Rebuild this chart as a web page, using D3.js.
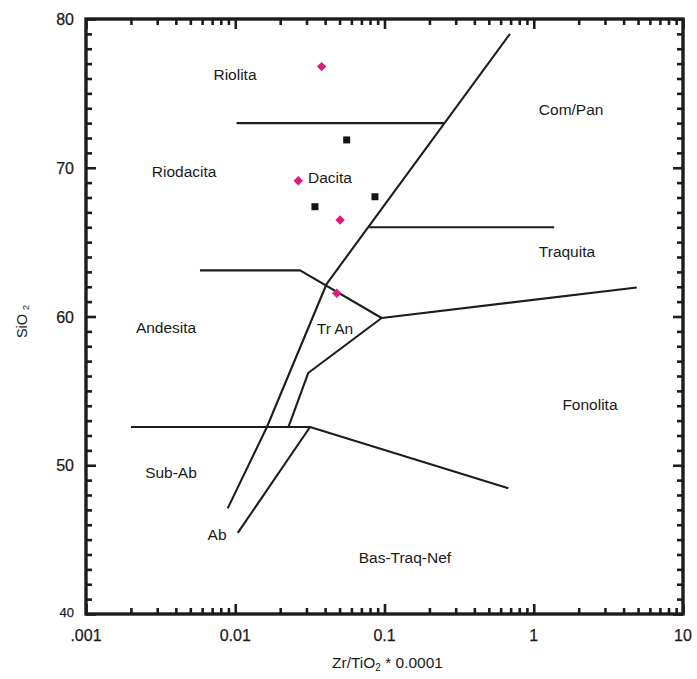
<!DOCTYPE html>
<html>
<head>
<meta charset="utf-8">
<script src="https://cdn.jsdelivr.net/npm/d3@7"></script>
<style>
  html, body { margin: 0; padding: 0; background: #fff; }
  svg { display: block; }
  text { font-family: "Liberation Sans", Arial, Helvetica, sans-serif; fill: #1a1a1a; }
</style>
</head>
<body>
<svg id="chart" width="697" height="679"></svg>
<script>
// Zr/TiO2 vs SiO2 classification diagram (Winchester & Floyd type)

// Axis ticks
const xTickValues = [0.001, 0.01, 0.1, 1, 10];
const xTickLabels = [".001", "0.01", "0.1", "1", "10"];
const yTickValues = [40, 50, 60, 70, 80];
const yTickLabels = ["40", "50", "60", "70", "80"];

// Field boundaries, [Zr/TiO2 * 0.0001, SiO2]
const riolitaBoundary   = [[0.0102, 73.0], [0.25, 73.0]];
const mainDivide        = [[0.693, 79.0], [0.041, 62.2], [0.0163, 52.57], [0.0089, 47.1]];
const traquitaBoundary  = [[0.079, 66.0], [1.37, 66.0]];
const andesitaBoundary  = [[0.0058, 63.1], [0.0272, 63.1], [0.0957, 59.9]];
const fonolitaBoundary  = [[0.0957, 59.9], [4.9, 61.95]];
const trAnBoundary      = [[0.0957, 59.9], [0.0308, 56.2], [0.0227, 52.57]];
const subAbBoundary     = [[0.002, 52.57], [0.0317, 52.57], [0.676, 48.45]];
const abBoundary        = [[0.0317, 52.57], [0.0104, 45.45]];
const boundaries = [riolitaBoundary, mainDivide, traquitaBoundary, andesitaBoundary,
                    fonolitaBoundary, trAnBoundary, subAbBoundary, abBoundary];

// Field names and anchor points (text baseline)
const fieldNames = ["Riolita", "Riodacita", "Dacita", "Com/Pan", "Traquita", "Andesita",
                    "Tr An", "Fonolita", "Sub-Ab", "Ab", "Bas-Traq-Nef"];
const fieldX = [0.00996, 0.00454, 0.0431, 1.78, 1.67, 0.00344, 0.0466, 2.38, 0.00371, 0.00755, 0.137];
const fieldY = [75.9, 69.38, 68.97, 73.55, 64.0, 58.89, 58.82, 53.71, 49.14, 44.97, 43.43];

// Samples
const groupA = [[0.0379, 76.8], [0.02645, 69.13], [0.0504, 66.49], [0.0479, 61.56]]; // magenta diamonds
const groupB = [[0.0558, 71.87], [0.0863, 68.05], [0.0342, 67.38]];                  // black squares

const svg = d3.select("#chart");
const L = 86, R = 683, T = 19, B = 614;

const x = d3.scaleLog().domain([0.001, 10]).range([L, R]);
const y = d3.scaleLinear().domain([40, 80]).range([B, T]);

const ink = "#1c1c1c";

// minor tick values
const xMinor = [];
[0.001, 0.01, 0.1, 1].forEach(d => { for (let k = 2; k <= 9; k++) xMinor.push(d * k); });
const yMinor = d3.range(41, 80).filter(v => v % 10 !== 0);

function styleAxis(g, w) {
  g.select(".domain").remove();
  g.selectAll(".tick line").attr("stroke", ink).attr("stroke-width", w);
}

// inward ticks on all four sides
const majorLen = 10, minorLen = 6;
const sides = [
  [d3.axisBottom, x, xMinor, xTickValues, `translate(0,${B})`],
  [d3.axisTop,    x, xMinor, xTickValues, `translate(0,${T})`],
  [d3.axisLeft,   y, yMinor, yTickValues, `translate(${L},0)`],
  [d3.axisRight,  y, yMinor, yTickValues, `translate(${R},0)`]
];
sides.forEach(([axisFn, scale, minor, major, tr]) => {
  svg.append("g").attr("transform", tr)
    .call(axisFn(scale).tickValues(minor).tickSize(-minorLen).tickFormat(""))
    .call(g => styleAxis(g, 2.6));
  svg.append("g").attr("transform", tr)
    .call(axisFn(scale).tickValues(major).tickSize(-majorLen).tickFormat(""))
    .call(g => styleAxis(g, 2.6));
});

// frame
svg.append("rect")
  .attr("x", L).attr("y", T).attr("width", R - L).attr("height", B - T)
  .attr("fill", "none").attr("stroke", ink).attr("stroke-width", 3.4);

// tick labels
svg.append("g").selectAll("text").data(xTickValues).join("text")
  .attr("x", d => x(d)).attr("y", B + 27)
  .attr("text-anchor", "middle").attr("font-size", 16)
  .attr("stroke", "#1a1a1a").attr("stroke-width", 0.25)
  .text((d, i) => xTickLabels[i]);
svg.append("g").selectAll("text").data(yTickValues).join("text")
  .attr("x", L - 12).attr("y", d => y(d) + (d === 40 ? 3 : 6))
  .attr("text-anchor", "end").attr("font-size", d => d === 40 ? 13 : 16)
  .attr("stroke", "#1a1a1a").attr("stroke-width", 0.25)
  .text((d, i) => yTickLabels[i]);

// axis titles
const xTitle = svg.append("text")
  .attr("x", (L + R) / 2 + 3).attr("y", 668)
  .attr("text-anchor", "middle").attr("font-size", 15.5);
xTitle.append("tspan").text("Zr/TiO");
xTitle.append("tspan").attr("font-size", 10).attr("dy", 3).text("2");
xTitle.append("tspan").attr("dy", -3).text(" * 0.0001");

const yTitle = svg.append("text")
  .attr("transform", `translate(27,${(T + B) / 2 + 5}) rotate(-90)`)
  .attr("text-anchor", "middle").attr("font-size", 14.5);
yTitle.append("tspan").text("SiO ");
yTitle.append("tspan").attr("font-size", 9).attr("dy", 2).text("2");

// boundaries
const line = d3.line().x(d => x(d[0])).y(d => y(d[1]));
svg.append("g").selectAll("path").data(boundaries).join("path")
  .attr("d", line).attr("fill", "none")
  .attr("stroke", ink).attr("stroke-width", 2.1)
  .attr("stroke-linejoin", "round");

// field names
svg.append("g").selectAll("text").data(fieldNames).join("text")
  .attr("x", (d, i) => x(fieldX[i])).attr("y", (d, i) => y(fieldY[i]))
  .attr("text-anchor", "middle").attr("font-size", 15.5)
  .text(d => d);

// samples
svg.append("g").selectAll("path").data(groupA).join("path")
  .attr("d", d3.symbol(d3.symbolSquare, 44)())
  .attr("transform", d => `translate(${x(d[0])},${y(d[1])}) rotate(45)`)
  .attr("fill", "#e3177f");
svg.append("g").selectAll("path").data(groupB).join("path")
  .attr("d", d3.symbol(d3.symbolSquare, 49)())
  .attr("transform", d => `translate(${x(d[0])},${y(d[1])})`)
  .attr("fill", "#141414");
</script>
</body>
</html>
